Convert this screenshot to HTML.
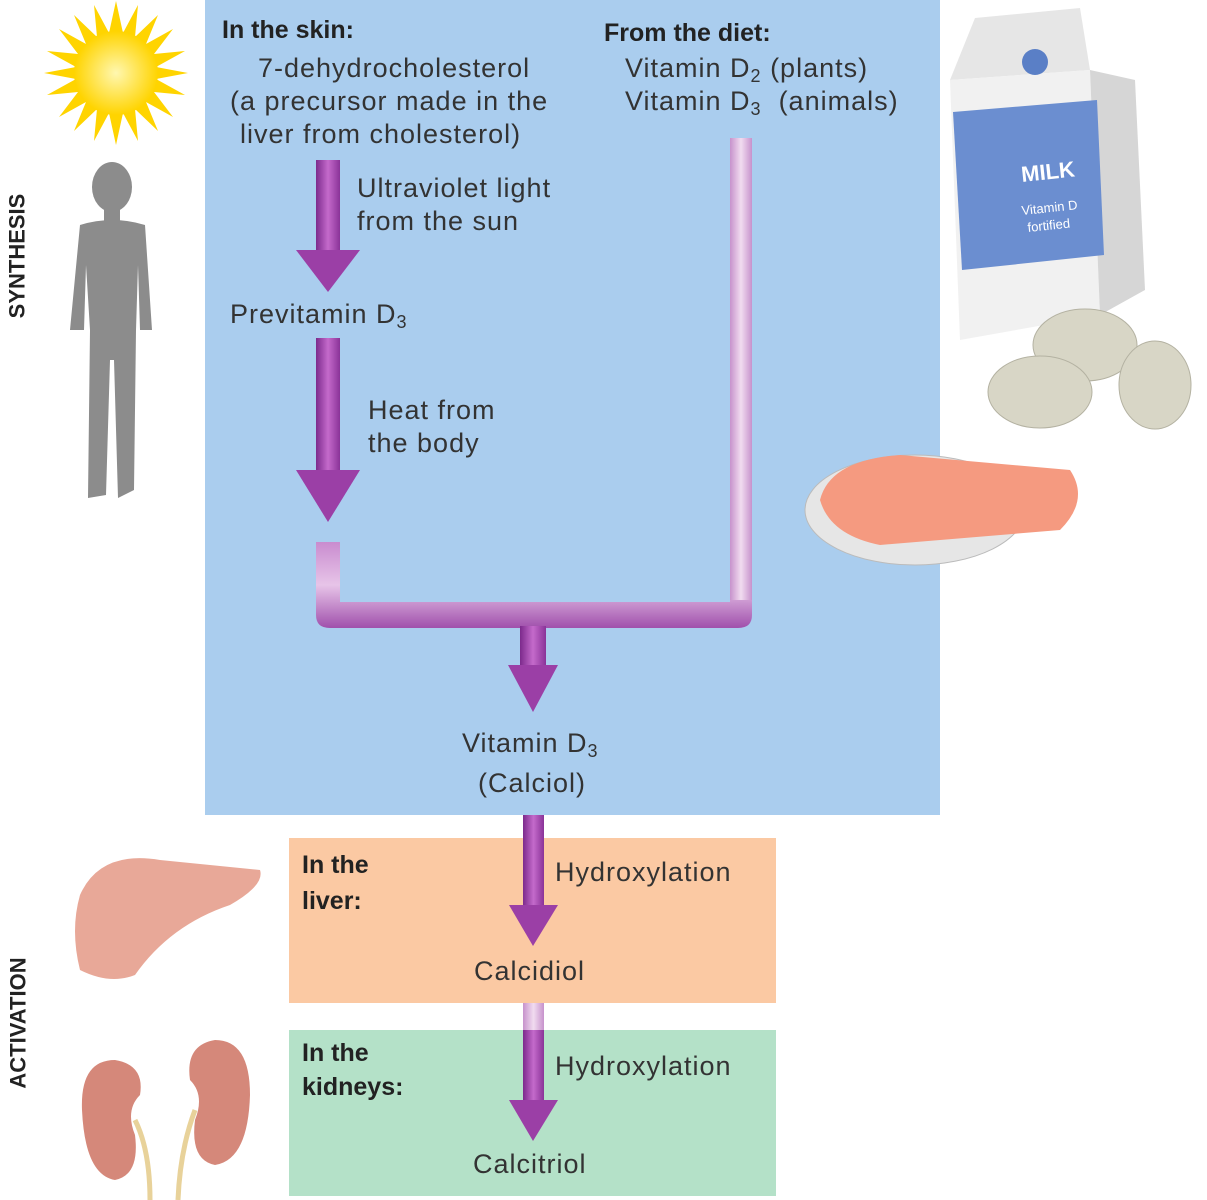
<!DOCTYPE html>
<html><head><meta charset="utf-8"><style>
body{margin:0;width:1207px;height:1200px;background:#fff;position:relative;overflow:hidden;font-family:"Liberation Sans",sans-serif;color:#333}
.t{position:absolute;font-size:27px;letter-spacing:1px;line-height:33px;white-space:nowrap}
.b{font-weight:bold;color:#222;font-size:25px;letter-spacing:0}
sub{font-size:18px;vertical-align:-5px;line-height:0}
.v{position:absolute;font-weight:bold;font-size:22px;color:#222;transform:rotate(-90deg);transform-origin:center;white-space:nowrap}
</style></head><body>
<div style="position:absolute;left:205px;top:0;width:735px;height:815px;background:#aacdee"></div>
<div style="position:absolute;left:289px;top:838px;width:487px;height:165px;background:#fbc9a3"></div>
<div style="position:absolute;left:289px;top:1030px;width:487px;height:166px;background:#b4e1c8"></div>

<svg width="1207" height="1200" style="position:absolute;left:0;top:0">
<defs>
<linearGradient id="p" x1="0" x2="1"><stop offset="0" stop-color="#7c2a8c"/><stop offset=".5" stop-color="#c46acb"/><stop offset="1" stop-color="#8a3398"/></linearGradient>
<linearGradient id="lp" x1="0" x2="1"><stop offset="0" stop-color="#c792cc"/><stop offset=".5" stop-color="#f1dcf0"/><stop offset="1" stop-color="#c792cc"/></linearGradient>
<linearGradient id="ph" x1="0" y1="0" x2="0" y2="1"><stop offset="0" stop-color="#c98ccf"/><stop offset=".5" stop-color="#e7c4e8"/><stop offset="1" stop-color="#a050ac"/></linearGradient>
<radialGradient id="sun"><stop offset="0" stop-color="#fff7b0"/><stop offset="1" stop-color="#ffd400"/></radialGradient>
</defs>
<rect x="316" y="160" width="24" height="92" fill="url(#p)"/>
<polygon points="296,250 360,250 328,292" fill="#9b3fa6"/>
<rect x="316" y="338" width="24" height="134" fill="url(#p)"/>
<polygon points="296,470 360,470 328,522" fill="#9b3fa6"/>
<rect x="730" y="138" width="22" height="470" fill="url(#lp)"/>
<path d="M316,542 H340 V602 H730 V600 H752 V615 Q752,628 738,628 H330 Q316,628 316,615 Z" fill="url(#ph)"/>
<rect x="520" y="626" width="26" height="42" fill="url(#p)"/>
<polygon points="508,665 558,665 533,712" fill="#9b3fa6"/>
<rect x="523" y="815" width="21" height="92" fill="url(#p)"/>
<polygon points="509,905 558,905 533,946" fill="#9b3fa6"/>
<rect x="523" y="1003" width="21" height="99" fill="url(#lp)"/>
<rect x="523" y="1030" width="21" height="72" fill="url(#p)"/>
<polygon points="509,1100 558,1100 533,1141" fill="#9b3fa6"/>
<g transform="translate(116,73)">
<polygon fill="#ffd400" points="0,-72 7,-40 22,-68 19,-36 42,-58 30,-29 57,-44 38,-19 69,-22 40,-6 72,0 40,6 69,22 38,19 57,44 30,29 42,58 19,36 22,68 7,40 0,72 -7,40 -22,68 -19,36 -42,58 -30,29 -57,44 -38,19 -69,22 -40,6 -72,0 -40,-6 -69,-22 -38,-19 -57,-44 -30,-29 -42,-58 -19,-36 -22,-68 -7,-40"/>
<circle r="42" fill="url(#sun)"/></g>
<g fill="#8c8c8c">
<ellipse cx="112" cy="187" rx="20" ry="25"/>
<rect x="104" y="205" width="16" height="18"/>
<path d="M80,225 Q112,215 145,225 L152,330 L140,330 L138,265 L136,330 L134,490 L118,498 L114,360 L110,360 L106,495 L88,498 L90,330 L86,265 L84,330 L70,330 Z"/>
</g>
<polygon points="950,80 975,18 1080,8 1090,70" fill="#e6e6e6"/>
<polygon points="950,80 1090,70 1100,315 960,340" fill="#f1f1f1"/>
<polygon points="1090,70 1135,80 1145,290 1100,315" fill="#d6d6d6"/>
<polygon points="953,112 1097,100 1104,255 962,270" fill="#6b8ed0"/>
<circle cx="1035" cy="62" r="13" fill="#5a7fc6"/>
<text x="1022" y="182" font-family="Liberation Sans" font-weight="bold" font-size="22" fill="#fff" transform="rotate(-6 1022 182)">MILK</text>
<text x="1022" y="215" font-family="Liberation Sans" font-size="13" fill="#fff" transform="rotate(-6 1022 215)">Vitamin D</text>
<text x="1028" y="232" font-family="Liberation Sans" font-size="13" fill="#fff" transform="rotate(-6 1028 232)">fortified</text>
<g fill="#d8d6c6" stroke="#b4b2a2"><ellipse cx="1085" cy="345" rx="52" ry="36"/><ellipse cx="1040" cy="392" rx="52" ry="36"/><ellipse cx="1155" cy="385" rx="36" ry="44"/></g>
<ellipse cx="915" cy="510" rx="110" ry="55" fill="#e6e6e6" stroke="#bbb"/>
<path d="M820,500 Q830,460 900,455 L1070,470 Q1090,500 1060,530 L880,545 Q830,535 820,500Z" fill="#f59a80"/>
<path d="M80,895 Q100,850 160,860 L260,870 Q265,885 230,905 Q170,925 135,975 Q110,985 80,970 Q70,930 80,895Z" fill="#e8a898"/>
<path d="M115,1060 Q80,1060 82,1110 Q85,1175 115,1180 Q140,1175 135,1135 Q125,1110 140,1095 Q145,1065 115,1060Z" fill="#d5887a"/>
<path d="M215,1040 Q250,1040 250,1095 Q248,1160 215,1165 Q190,1160 195,1120 Q205,1095 190,1080 Q185,1045 215,1040Z" fill="#d5887a"/>
<path d="M135,1120 Q150,1150 150,1200 M195,1110 Q180,1150 178,1200" stroke="#e8d29a" stroke-width="5" fill="none"/>
</svg>

<div class="v" style="left:-45px;top:243px">SYNTHESIS</div>
<div class="v" style="left:-47px;top:1010px">ACTIVATION</div>

<div class="t b" style="left:222px;top:14px">In the skin:</div>
<div class="t" style="left:258px;top:52px">7-dehydrocholesterol</div>
<div class="t" style="left:230px;top:85px">(a precursor made in the</div>
<div class="t" style="left:240px;top:118px">liver from cholesterol)</div>
<div class="t b" style="left:604px;top:17px">From the diet:</div>
<div class="t" style="left:625px;top:52px">Vitamin D<sub>2</sub> (plants)</div>
<div class="t" style="left:625px;top:85px">Vitamin D<sub>3</sub> &nbsp;(animals)</div>
<div class="t" style="left:357px;top:172px">Ultraviolet light</div>
<div class="t" style="left:357px;top:205px">from the sun</div>
<div class="t" style="left:230px;top:298px">Previtamin D<sub>3</sub></div>
<div class="t" style="left:368px;top:394px">Heat from</div>
<div class="t" style="left:368px;top:427px">the body</div>
<div class="t" style="left:462px;top:727px">Vitamin D<sub>3</sub></div>
<div class="t" style="left:478px;top:767px">(Calciol)</div>
<div class="t b" style="left:302px;top:849px">In the</div>
<div class="t b" style="left:302px;top:885px">liver:</div>
<div class="t" style="left:555px;top:856px">Hydroxylation</div>
<div class="t" style="left:474px;top:955px">Calcidiol</div>
<div class="t b" style="left:302px;top:1037px">In the</div>
<div class="t b" style="left:302px;top:1071px">kidneys:</div>
<div class="t" style="left:555px;top:1050px">Hydroxylation</div>
<div class="t" style="left:473px;top:1148px">Calcitriol</div>
</body></html>
